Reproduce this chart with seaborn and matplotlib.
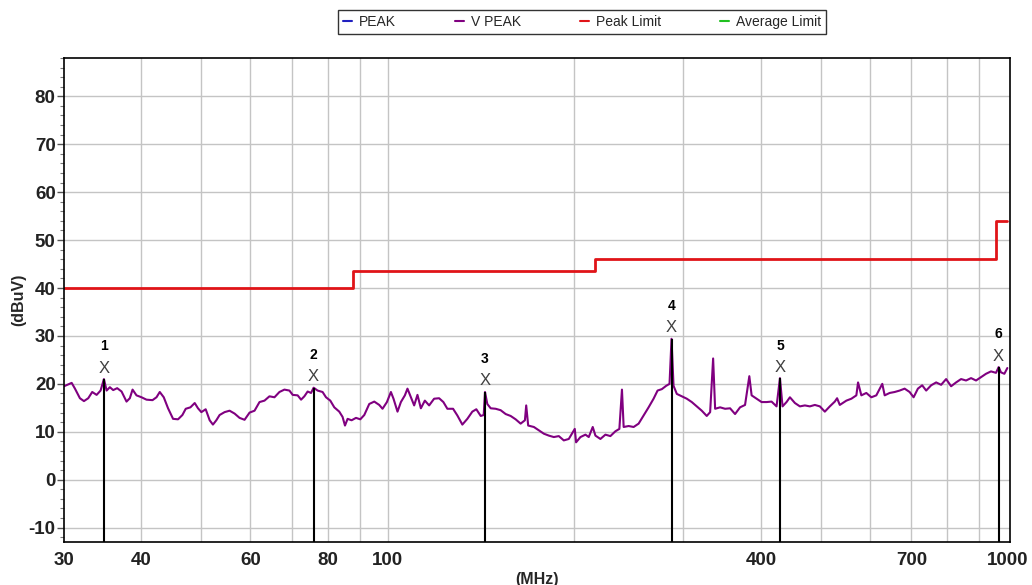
import numpy as np
import pandas as pd
import seaborn as sns
import matplotlib.pyplot as plt
from matplotlib.lines import Line2D
from matplotlib.ticker import FixedLocator, NullFormatter, MultipleLocator

# V PEAK trace (MHz, dBuV)
trace_freq = [
    30.00, 30.87, 31.25, 31.83, 32.31, 32.83, 33.32, 33.87, 34.37, 34.80, 35.15, 35.58,
    36.02, 36.56, 37.16, 37.85, 38.32, 38.71, 39.28, 40.02, 40.77, 41.69, 42.31, 42.83,
    43.47, 44.17, 45.00, 45.84, 46.59, 47.17, 48.00, 48.77, 49.37, 49.99, 50.80, 51.56,
    52.19, 52.85, 53.50, 54.50, 55.52, 56.56, 57.62, 58.70, 59.80, 60.92, 62.05,
    63.21, 64.39, 65.60, 66.82, 68.07, 69.35, 70.20, 71.51, 72.42, 73.31, 74.21, 75.15,
    75.88, 77.01, 78.45, 79.45, 80.73, 81.94, 83.47, 84.50, 85.26, 86.09, 87.38, 88.82,
    90.25, 91.60, 93.31, 95.06, 96.84, 98.03, 99.64, 101.13, 102.11, 103.64, 104.95,
    106.52, 107.55, 108.92, 110.26, 111.62, 113.04, 114.73, 116.57, 118.75, 120.97,
    122.91, 124.75, 127.42, 129.47, 131.89, 134.36, 136.87, 138.92, 141.21, 142.79,
    143.48, 144.71, 146.55, 149.29, 152.08, 154.93, 157.83, 160.78, 163.79, 166.42,
    167.22, 168.46, 172.06, 175.28, 178.56, 181.90, 185.30, 188.77, 192.30, 195.90,
    200.31, 201.28, 204.59, 208.42, 210.99, 214.14, 216.29, 220.34, 224.46, 228.66,
    232.94, 236.42, 238.71, 240.22, 244.72, 249.30, 253.96, 258.71, 263.55, 268.48,
    272.49, 276.87, 281.42, 284.88, 287.00, 289.15, 292.71, 298.19, 303.77, 309.45,
    315.24, 321.14, 327.15, 331.30, 335.00, 337.49, 343.80, 350.24, 356.79, 363.46,
    370.26, 377.19, 383.25, 386.53, 393.76, 401.13, 408.63, 416.28, 424.07, 429.45,
    433.61, 440.09, 445.67, 454.01, 462.51, 471.16, 479.98, 488.96, 498.11, 507.43,
    516.92, 526.59, 531.10, 536.44, 549.73, 560.02, 570.50, 574.11, 581.18, 592.05,
    603.13, 614.41, 628.23, 633.85, 645.71, 657.79, 670.10, 682.63, 695.40, 705.79,
    717.13, 728.66, 739.54, 753.38, 767.47, 781.83, 796.46, 811.36, 826.54, 842.00,
    857.75, 873.80, 890.15, 906.80, 923.77, 941.05, 958.66, 968.30, 976.59, 988.98,
    1000.0,
]
trace_level = [
    19.5, 20.2, 19.0, 17.0, 16.4, 17.0, 18.3, 17.7, 18.6, 21.0, 18.6, 19.3,
    18.7, 19.1, 18.4, 16.3, 17.0, 18.8, 17.6, 17.2, 16.7, 16.6, 17.2, 18.3,
    17.2, 14.9, 12.7, 12.6, 13.5, 14.8, 15.1, 16.0, 14.9, 14.1, 14.7, 12.4,
    11.5, 12.4, 13.5, 14.1, 14.4, 13.8, 12.9, 12.5, 14.0, 14.4, 16.2,
    16.5, 17.4, 17.2, 18.3, 18.8, 18.6, 17.7, 17.6, 16.7, 17.4, 18.4, 18.1,
    19.2, 18.6, 18.3, 17.2, 16.5, 15.1, 14.2, 13.1, 11.3, 12.7, 12.4, 12.9,
    12.6, 13.5, 15.8, 16.3, 15.6, 14.8, 16.2, 18.3, 16.9, 14.2, 16.2,
    17.6, 19.0, 17.2, 15.5, 17.7, 14.9, 16.5, 15.5, 16.9, 17.0,
    16.2, 14.8, 14.8, 13.4, 11.5, 12.7, 14.2, 14.7, 13.3, 13.5,
    18.3, 15.8, 14.9, 14.8, 14.5, 13.7, 13.3, 12.6, 11.7, 12.4,
    15.5, 11.3, 11.0, 10.3, 9.6, 9.2, 8.9, 9.1, 8.2, 8.5,
    10.6, 7.8, 8.9, 9.4, 8.9, 11.0, 9.2, 8.5, 9.4, 9.1,
    10.1, 10.6, 18.8, 11.0, 11.2, 11.0, 11.7, 13.4, 15.1, 16.9,
    18.6, 18.9, 19.6, 20.0, 29.4, 19.6, 17.9, 17.4, 16.9, 16.2,
    15.3, 14.4, 13.3, 14.1, 25.3, 14.8, 15.1, 14.8, 14.9, 13.7,
    15.1, 15.6, 21.6, 17.6, 16.9, 16.2, 16.2, 16.3, 15.3, 21.2,
    15.3, 16.2, 17.2, 16.0, 15.3, 15.5, 15.3, 15.6, 15.3, 14.2,
    15.3, 16.3, 17.0, 15.6, 16.5, 16.9, 17.6, 20.3, 17.6, 18.1,
    17.2, 17.6, 20.0, 17.6, 18.1, 18.3, 18.6, 19.0, 18.3, 17.2,
    19.0, 19.7, 18.6, 19.7, 20.3, 19.8, 21.0, 19.5, 20.3, 21.0,
    20.7, 21.2, 20.7, 21.4, 22.1, 22.6, 22.3, 23.5, 22.4, 22.1,
    23.3,
]

# limit line (steps)
limit_freq = [30, 88, 88, 216, 216, 960, 960, 1000]
limit_level = [40, 40, 43.5, 43.5, 46, 46, 54, 54]

# markers
marker_id = ["1", "2", "3", "4", "5", "6"]
marker_freq = [34.80, 75.88, 143.48, 287.00, 429.45, 968.30]
marker_level = [21.0, 19.2, 18.3, 29.4, 21.2, 23.5]

x_ticks = [30, 40, 60, 80, 100, 400, 700, 1000]
x_grid = [40, 50, 60, 70, 80, 90, 100, 200, 300, 400, 500, 600, 700, 800, 900]

sns.set_theme(style="white")
plt.rcParams["font.family"] = ["Liberation Sans", "DejaVu Sans"]
plt.rcParams["axes.unicode_minus"] = False

fig = plt.figure(figsize=(10.32, 5.85), dpi=100)
ax = fig.add_axes([0.062, 0.0735, 0.9167, 0.8274])

trace = pd.DataFrame({"freq": trace_freq, "level": trace_level})
sns.lineplot(data=trace, x="freq", y="level", color="#800080", lw=1.5,
             estimator=None, sort=False, ax=ax)
sns.lineplot(x=limit_freq, y=limit_level, color="#e01418", lw=2.0,
             estimator=None, sort=False, ax=ax)

ymin = -13
for mid, f, v in zip(marker_id, marker_freq, marker_level):
    ax.vlines(f, ymin, v, color="black", lw=1.5, zorder=3)
    ax.text(f, v + 2.3, "X", ha="center", va="center", fontsize=12,
            color="#404040")
    ax.text(f, v + 6.8, mid, ha="center", va="center", fontsize=10,
            fontweight="bold", color="black")

ax.set_xscale("log")
ax.set_xlim(30, 1010)
ax.set_ylim(ymin, 88)

ax.xaxis.set_major_locator(FixedLocator(x_ticks))
ax.xaxis.set_minor_locator(FixedLocator(x_grid))
ax.xaxis.set_minor_formatter(NullFormatter())
ax.set_xticklabels([str(t) for t in x_ticks])
ax.yaxis.set_major_locator(MultipleLocator(10))
ax.yaxis.set_minor_locator(MultipleLocator(2))

ax.grid(False)
for g in x_grid:
    ax.axvline(g, color="#c4c4c4", lw=1.0, zorder=0)
for g in range(-10, 90, 10):
    ax.axhline(g, color="#c4c4c4", lw=1.0, zorder=0)

for s in ax.spines.values():
    s.set_color("black")
    s.set_linewidth(1.2)

ax.tick_params(axis="y", which="major", left=True, length=5, width=1,
               color="#555555", labelsize=13.5, pad=1)
ax.tick_params(axis="y", which="minor", left=True, length=3, width=0.8,
               color="#777777")
ax.tick_params(axis="x", which="both", bottom=False, labelsize=13.5, pad=1)
for lab in ax.get_yticklabels() + ax.get_xticklabels():
    lab.set_fontweight("bold")
    lab.set_color("#222222")

ax.set_xlabel("(MHz)", fontsize=11.5, fontweight="bold", labelpad=2)
ax.set_ylabel("(dBuV)", fontsize=11.5, fontweight="bold", labelpad=2)

handles = [
    Line2D([], [], color="#2020c0", lw=1.5),
    Line2D([], [], color="#800080", lw=1.5),
    Line2D([], [], color="#e01418", lw=1.5),
    Line2D([], [], color="#20c020", lw=1.5),
]
labels = ["PEAK", "V PEAK", "Peak Limit", "Average Limit"]
leg = fig.legend(handles, labels, loc="upper center", ncol=4,
                 bbox_to_anchor=(0.564, 0.995), frameon=True, fancybox=False,
                 edgecolor="black", fontsize=10, handlelength=0.7,
                 handletextpad=0.5, columnspacing=4.2, borderpad=0.35)
leg.get_frame().set_linewidth(1.0)

fig.savefig("out.png", dpi=100)
